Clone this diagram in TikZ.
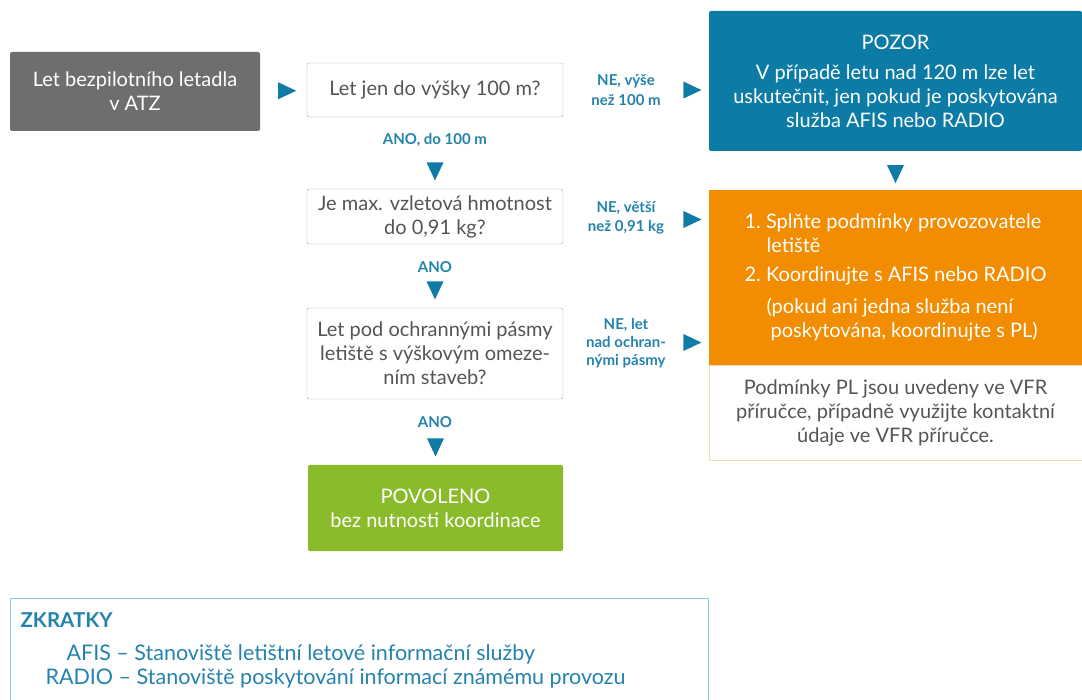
\documentclass[tikz,border=0pt]{standalone}
\usepackage{fontspec}
\setmainfont{Lato}
\usetikzlibrary{shapes.geometric, positioning, calc}

\definecolor{startgray}{HTML}{6E6E6E}
\definecolor{pozorblue}{HTML}{0C7BA6}
\definecolor{arrblue}{HTML}{0F7CA8}
\definecolor{lblblue}{HTML}{2383AC}
\definecolor{todoorange}{HTML}{F28C00}
\definecolor{okgreen}{HTML}{8ABB2B}
\definecolor{txtgray}{HTML}{555555}
\definecolor{boxgray}{HTML}{A5A5A5}
\definecolor{noteline}{HTML}{FAD9A8}
\definecolor{abbrline}{HTML}{8CCBE0}

\tikzset{
  base/.style={rounded corners=2pt, align=center, inner sep=0pt, font=\fontsize{20}{24}\selectfont},
  qbox/.style={base, draw=boxgray, fill=white, text=txtgray, minimum width=256pt},
  lbl/.style={text=lblblue, align=center, font=\fontsize{15}{19.5}\selectfont\bfseries},
  tri/.style={isosceles triangle, isosceles triangle stretches, fill=arrblue, minimum width=17pt, minimum height=18pt, inner sep=0pt},
}

\begin{document}
\begin{tikzpicture}[x=1pt, y=-1pt]
\useasboundingbox (0,0) rectangle (1082,700);

% Questions
\node[base, fill=startgray, text=white, minimum width=250pt, minimum height=79pt] (start) at (135,91.5) {Let bezpilotního letadla\\v ATZ};
\node[qbox, minimum height=54pt] (q1) at (435,90) {Let jen do výšky 100 m?};
\node[qbox, minimum height=55pt] (q2) at (435,216.5) {Je max. vzletová hmotnost\\do 0,91 kg?};
\node[qbox, minimum height=91pt] (q3) at (435,353.5) {Let pod ochrannými pásmy\\letiště s výškovým omeze-\\ním staveb?};
\node[base, fill=okgreen, text=white, minimum width=255pt, minimum height=86pt] (go) at (435.5,508) {POVOLENO\\bez nutnosti koordinace};

% Right column
\node[base, fill=pozorblue, text=white, minimum width=373pt, minimum height=140pt] (pozor) at (895.5,81) {POZOR\\[6pt]V případě letu nad 120 m lze let\\uskutečnit, jen pokud je poskytována\\služba AFIS nebo RADIO};
\node[base, rounded corners=0pt, fill=todoorange, text=white, align=left, minimum width=373pt, minimum height=175pt] (todo) at (895.5,277.5) {1.\ Splňte podmínky provozovatele\\\hspace*{22pt}letiště\\[5pt]2.\ Koordinujte s AFIS nebo RADIO\\[8pt]\hspace*{22pt}(pokud ani jedna služba není\\\hspace*{26pt}poskytována, koordinujte s PL)};
\node[base, rounded corners=0pt, draw=noteline, fill=white, text=txtgray, minimum width=373pt, minimum height=95pt] (note) at (895.5,412.5) {Podmínky PL jsou uvedeny ve VFR\\příručce, případně využijte kontaktní\\údaje ve VFR příručce.};

% Arrows
\node[tri] (t0) at ($(start.east)!0.5!(q1.west)$) {};
\foreach \a/\b/\txt in {q1/q2/{ANO, do 100 m}, q2/q3/ANO, q3/go/ANO} {
  \node[lbl] (ano-\a) at ([yshift=-23pt]\a.south) {\txt};
  \node[tri, rotate=-90] (td-\a) at ([yshift=21pt]\b.north) {};
}
\node[tri, rotate=-90] (td-pozor) at ($(pozor.south)!0.5!(todo.north)$) {};

\node[tri] (tr-q1) at ([xshift=-20pt]pozor.west |- q1.east) {};
\node[lbl] (ne-q1) at ($(q1.east)!0.5!(tr-q1)$) {NE, výše\\než 100 m};
\node[tri] (tr-q2) at ([xshift=-20pt,yshift=-3pt]todo.west |- q2.east) {};
\node[lbl] (ne-q2) at ($(q2.east)!0.5!(tr-q2)$) {NE, větší\\než 0,91 kg};
\node[tri] (tr-q3) at ([xshift=-20pt,yshift=11pt]todo.west |- q3.east) {};
\node[lbl, font=\fontsize{15}{18}\selectfont\bfseries] (ne-q3) at ($([yshift=10pt]q3.east)!0.5!(tr-q3)$) {NE, let\\nad ochran-\\nými pásmy};

% Abbreviations
\node[draw=abbrline, minimum width=698pt, minimum height=122pt, inner sep=0pt] (abbr) at (359,659) {};
\node[anchor=west, text=lblblue, font=\fontsize{20.5}{24}\selectfont\bfseries] (zk) at (17,620) {ZKRATKY};
\node[anchor=west, text=lblblue, font=\fontsize{21.5}{24}\selectfont] (afis) at (63,654) {AFIS – Stanoviště letištní letové informační služby};
\node[anchor=west, text=lblblue, font=\fontsize{21.5}{24}\selectfont] (radio) at (42,678) {RADIO – Stanoviště poskytování informací známému provozu};
\end{tikzpicture}
\end{document}
